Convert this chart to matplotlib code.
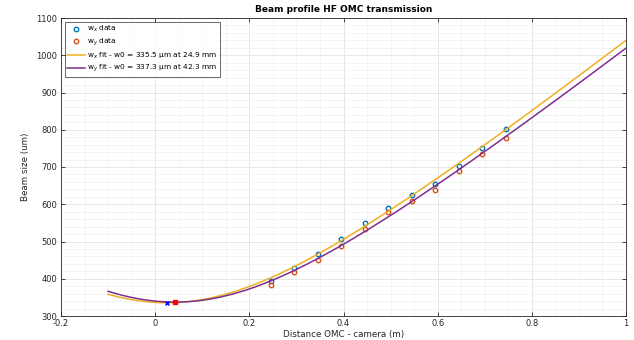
import numpy as np
import matplotlib
matplotlib.use("Agg")
import matplotlib.pyplot as plt

# Measured beam radii (um) vs distance OMC - camera (m)
z_data = [0.245, 0.295, 0.345, 0.395, 0.445, 0.495, 0.545, 0.595, 0.645, 0.695, 0.745]
wx_data = [393, 428, 466, 507, 549, 589, 624, 655, 704, 752, 801]
wy_data = [384, 418, 451, 488, 534, 578, 609, 639, 689, 735, 779]

# Gaussian fit parameters
wx_w0_um, wx_z0_mm = 335.5, 24.9
wy_w0_um, wy_z0_mm = 337.3, 42.3
wavelength_m = 1064e-9
z_fit_range = (-0.1, 1.0)

C_BLUE = (0.0, 0.447, 0.741)
C_RED = (0.85, 0.325, 0.098)
C_YEL = (0.929, 0.694, 0.125)
C_PUR = (0.494, 0.184, 0.556)
C_AX = '#262626'


def beam_radius(z, w0_um, z0_mm):
    w0 = w0_um * 1e-6
    zr = np.pi * w0 ** 2 / wavelength_m
    return w0_um * np.sqrt(1 + ((z - z0_mm * 1e-3) / zr) ** 2)


z = np.linspace(*z_fit_range, 400)

fig = plt.figure(figsize=(6.34, 3.4), dpi=100)
ax = fig.add_axes([61 / 634, 1 - 316 / 340, 565 / 634, 298 / 340])

ax.plot(z_data, wx_data, 'o', ms=3.2, mfc='none', mec=C_BLUE, mew=1.0, label='w$_x$ data')
ax.plot(z_data, wy_data, 'o', ms=3.2, mfc='none', mec=C_RED, mew=1.0, label='w$_y$ data')
ax.plot(z, beam_radius(z, wx_w0_um, wx_z0_mm), color=C_YEL, lw=1.1,
        label=f'w$_x$ fit - w0 = {wx_w0_um} \u03bcm at {wx_z0_mm} mm')
ax.plot(z, beam_radius(z, wy_w0_um, wy_z0_mm), color=C_PUR, lw=1.1,
        label=f'w$_y$ fit - w0 = {wy_w0_um} \u03bcm at {wy_z0_mm} mm')
ax.plot(wx_z0_mm * 1e-3, wx_w0_um, 'x', color='blue', ms=3, mew=1)
ax.plot(wy_z0_mm * 1e-3, wy_w0_um, 's', color='red', ms=3)

ax.set_xlim(-0.2, 1.0)
ax.set_ylim(300, 1100)
ax.set_xticks(np.arange(-0.2, 1.01, 0.2))
ax.set_xticklabels(['-0.2', '0', '0.2', '0.4', '0.6', '0.8', '1'])
ax.set_yticks(np.arange(300, 1101, 100))
ax.set_xticks(np.arange(-0.2, 1.001, 0.05), minor=True)
ax.set_yticks(np.arange(300, 1101, 20), minor=True)
ax.grid(True, which='major', color='#e3e3e3', lw=0.6)
ax.grid(True, which='minor', color='#f0f0f0', lw=0.5)
ax.set_axisbelow(True)
ax.tick_params(which='major', direction='in', length=3, width=0.6, labelsize=6,
               colors=C_AX, top=True, right=True, pad=2.5)
ax.tick_params(which='minor', length=0)
for s in ax.spines.values():
    s.set_color(C_AX)
    s.set_linewidth(0.6)

ax.set_xlabel('Distance OMC - camera (m)', fontsize=6.3, color=C_AX, labelpad=1)
ax.set_ylabel('Beam size (um)', fontsize=6.3, color=C_AX, labelpad=5)
ax.set_title('Beam profile HF OMC transmission', fontsize=6.5, fontweight='bold', pad=4)

leg = ax.legend(loc='upper left', fontsize=5.3, frameon=True, fancybox=False,
                edgecolor=C_AX, borderaxespad=0.5, handlelength=2.4,
                labelspacing=0.3, borderpad=0.35, handletextpad=0.3)
leg.get_frame().set_linewidth(0.6)

fig.savefig('out.png', dpi=100)
